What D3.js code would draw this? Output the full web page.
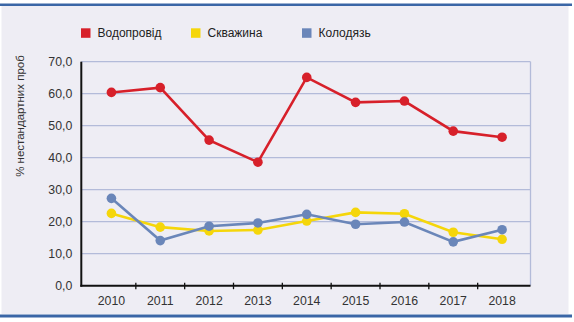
<!DOCTYPE html>
<html><head><meta charset="utf-8">
<script src="https://cdn.jsdelivr.net/npm/d3@7"></script>
<style>
html,body{margin:0;padding:0;background:#fff;}
svg{display:block;font-family:Arial,"Liberation Sans",sans-serif;}
</style></head>
<body><svg id="c" width="574" height="322"></svg>
<script>
const years = ["2010","2011","2012","2013","2014","2015","2016","2017","2018"];
const vodoprovid = [60.4, 61.9, 45.5, 38.6, 65.1, 57.3, 57.7, 48.3, 46.4];
const skvazhyna  = [22.6, 18.3, 17.1, 17.4, 20.2, 22.9, 22.5, 16.7, 14.5];
const kolodyaz   = [27.3, 14.1, 18.6, 19.6, 22.3, 19.2, 19.9, 13.7, 17.5];
const seriesNames = ["Водопровід", "Скважина", "Колодязь"];
const yTicks = [0, 10, 20, 30, 40, 50, 60, 70];
const yTitle = "% нестандартних проб";

const colors = ["#d7202a", "#f5d60a", "#6a86b9"];
const series = [vodoprovid, skvazhyna, kolodyaz];

const svg = d3.select("#c");
svg.append("rect").attr("x",1.5).attr("y",6).attr("width",567).attr("height",308).attr("fill","#eeedf4");
svg.append("rect").attr("x",0).attr("y",3.5).attr("width",572).attr("height",2.5).attr("fill","#3a66a6");
svg.append("rect").attr("x",0).attr("y",314.5).attr("width",572).attr("height",3).attr("fill","#3a66a6");

const L = 81.3, R = 530.5, T = 61.7, B = 285.7;
const x = d3.scaleBand().domain(years).range([87, 526.5]);
const y = d3.scaleLinear().domain([0,70]).range([B, T]);

svg.append("g").selectAll("line").data(yTicks.filter(d=>d>0)).join("line")
  .attr("x1",L).attr("x2",R).attr("y1",d=>y(d)).attr("y2",d=>y(d))
  .attr("stroke","#b3bbd9").attr("stroke-width",1.3);
svg.append("line").attr("x1",R).attr("x2",R).attr("y1",T).attr("y2",B)
  .attr("stroke","#b3bbd9").attr("stroke-width",1.3);

const yAxis = d3.axisLeft(y).tickValues(yTicks).tickSize(0).tickPadding(9)
  .tickFormat(d => d3.format(".1f")(d).replace(".", ","));
const gy = svg.append("g").attr("transform",`translate(${L},0)`).call(yAxis);
gy.select(".domain").remove();
gy.selectAll("text").attr("font-size",12.3).attr("fill","#333")
  .attr("font-family","Arial,'Liberation Sans',sans-serif");
svg.append("line").attr("x1",L).attr("x2",L).attr("y1",T).attr("y2",B+1)
  .attr("stroke","#111").attr("stroke-width",2);

const xAxis = d3.axisBottom(x).tickSize(0).tickPadding(11);
const gx = svg.append("g").attr("transform",`translate(0,${B})`).call(xAxis);
gx.select(".domain").remove();
gx.selectAll("text").attr("font-size",12.3).attr("fill","#333")
  .attr("font-family","Arial,'Liberation Sans',sans-serif");
svg.append("line").attr("x1",L-1).attr("x2",R).attr("y1",B).attr("y2",B)
  .attr("stroke","#111").attr("stroke-width",2);
svg.append("g").selectAll("line").data(years.slice(1)).join("line")
  .attr("x1",d=>x(d)).attr("x2",d=>x(d)).attr("y1",B-3).attr("y2",B+3.5)
  .attr("stroke","#111").attr("stroke-width",1.3);

svg.append("text").attr("transform","translate(24,116) rotate(-90)")
  .attr("text-anchor","middle").attr("font-size",11.5).attr("fill","#333").text(yTitle);

const cx = d => x(d) + x.bandwidth()/2;
series.forEach((vals, i) => {
  const data = years.map((yr,j)=>({yr, v: vals[j]}));
  svg.append("path").datum(data)
    .attr("d", d3.line().x(d=>cx(d.yr)).y(d=>y(d.v)))
    .attr("fill","none").attr("stroke",colors[i]).attr("stroke-width",2.6);
  svg.append("g").selectAll("circle").data(data).join("circle")
    .attr("cx",d=>cx(d.yr)).attr("cy",d=>y(d.v)).attr("r",4.8).attr("fill",colors[i]);
});

const legX = [81, 191, 302];
seriesNames.forEach((n,i)=>{
  svg.append("rect").attr("x",legX[i]).attr("y",28.3).attr("width",9.5).attr("height",9.5).attr("fill",colors[i]);
  svg.append("text").attr("x",legX[i]+16.5).attr("y",37.3).attr("font-size",12).attr("fill","#222").text(n);
});
</script></body></html>
